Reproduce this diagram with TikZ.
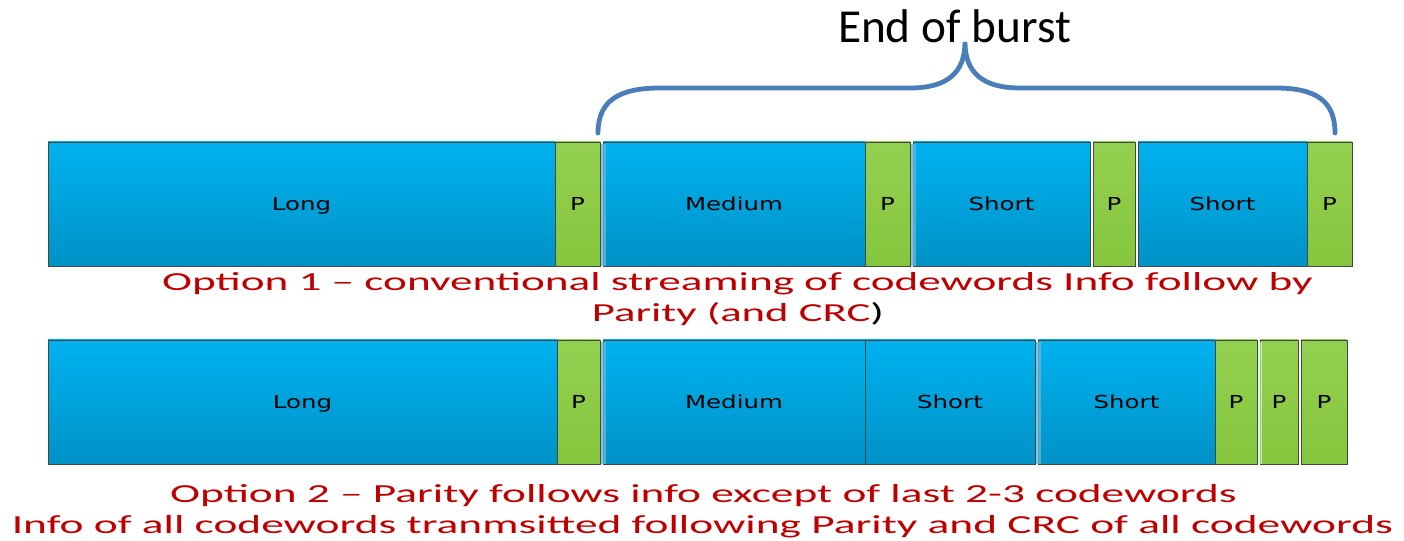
\documentclass[tikz,border=0pt]{standalone}
\usepackage{fontspec}
\usepackage{graphicx}
\newfontfamily\dvfont{DejaVu Sans}
\newfontfamily\cbfont{Carlito}
\definecolor{blueTop}{HTML}{00B2F0}
\definecolor{blueBot}{HTML}{0092C6}
\definecolor{greenTop}{HTML}{94D050}
\definecolor{greenBot}{HTML}{86C63E}
\definecolor{edge}{HTML}{404840}
\definecolor{braceBlue}{HTML}{4A7EBB}
\definecolor{optRed}{HTML}{C00000}
\definecolor{stripe}{HTML}{62B8DC}
\newcommand\lbl[1]{\scalebox{1.37}[1]{#1}}
\newcommand\cw[6]{%
  \node[#1, minimum width={(#4-#3)*0.75pt}] (#2) at ({(#3+#4)/2},#5) {\lbl{#6}};}
\tikzset{
  cwbase/.style={draw=edge, line width=0.7pt, inner sep=0pt, outer sep=0pt,
    minimum height=93pt, text height=9.8pt, text depth=0pt,
    font=\dvfont\fontsize{13.4}{15}\selectfont},
  info/.style={cwbase, top color=blueTop, bottom color=blueBot},
  par/.style={cwbase, top color=greenTop, bottom color=greenBot},
  opttext/.style={text=optRed, inner sep=0pt, anchor=base,
    font=\cbfont\fontsize{19.5}{23}\selectfont},
  bracecurve/.style={draw=braceBlue, line width=3.6pt, line cap=round}
}
\begin{document}
\begin{tikzpicture}[x=0.75pt, y=-0.75pt]
\useasboundingbox (0,0) rectangle (1404,541);
% Row 1
\cw{info}{r1long}{48}{555}{204}{Long}
\cw{par}{r1p1}{555}{600}{204}{P}
\cw{info}{r1med}{603}{865}{204}{Medium}
\cw{par}{r1p2}{865}{910}{204}{P}
\cw{info}{r1sh1}{913}{1090}{204}{Short}
\cw{par}{r1p3}{1093}{1135}{204}{P}
\cw{info}{r1sh2}{1138}{1307}{204}{Short}
\cw{par}{r1p4}{1307}{1352}{204}{P}
\fill[stripe, opacity=0.8] (601,144) rectangle (606,266);
\fill[stripe, opacity=0.8] (911,144) rectangle (916,266);
% Row 2
\cw{info}{r2long}{48}{557}{402}{Long}
\cw{par}{r2p1}{557}{600}{402}{P}
\cw{info}{r2med}{603}{865}{402}{Medium}
\cw{info}{r2sh1}{865}{1035}{402}{Short}
\cw{info}{r2sh2}{1038}{1215}{402}{Short}
\cw{par}{r2p2}{1215}{1257}{402}{P}
\cw{par}{r2p3}{1260}{1298}{402}{P}
\cw{par}{r2p4}{1301}{1347}{402}{P}
\fill[stripe, opacity=0.8] (601,342) rectangle (606,464);
\fill[stripe, opacity=0.8] (1036,342) rectangle (1041,464);
\fill[white!80!green, opacity=0.7] (1258,342) rectangle (1262,464);
% Brace
\draw[bracecurve] (598,133) .. controls (598,100) and (620,88) .. (660,88)
  -- (910,88) .. controls (948,88) and (965,72) .. (965,42)
  .. controls (965,72) and (982,88) .. (1020,88)
  -- (1275,88) .. controls (1315,88) and (1335,100) .. (1335,133);
\node[inner sep=0pt, anchor=base, font=\cbfont\fontsize{35.5}{42}\selectfont] (eob) at (954.5,43) {End of burst};
% Captions
\node[opttext] (cap1) at (737.5,291) {\resizebox{863pt}{\height}{Option 1 – conventional streaming of codewords Info follow by}};
\node[opttext] (cap2) at (738,322) {\resizebox{219pt}{\height}{Parity (and CRC\textcolor{black}{)}}};
\node[opttext] (cap3) at (703.5,503) {\resizebox{800pt}{\height}{Option 2 – Parity follows info except of last 2-3 codewords}};
\node[opttext] (cap4) at (702.5,534) {\resizebox{1036pt}{\height}{Info of all codewords tranmsitted following Parity and CRC of all codewords}};
\end{tikzpicture}
\end{document}
